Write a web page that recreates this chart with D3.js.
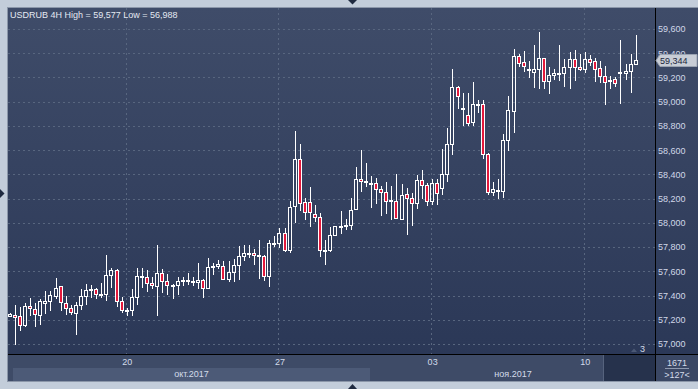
<!DOCTYPE html>
<html><head><meta charset="utf-8">
<script src="https://cdn.jsdelivr.net/npm/d3@7/dist/d3.min.js"></script>
<style>html,body{margin:0;padding:0;background:#c3cdda;overflow:hidden}svg{display:block}</style>
</head><body><svg id="c" width="698" height="389"></svg>
<script>
// ---- data (USDRUB 4H) ----
const days = ["16.10","17.10","18.10","19.10","20.10","23.10","24.10","25.10","26.10","27.10",
  "30.10","31.10","01.11","02.11","03.11","06.11","07.11","08.11","09.11","10.11","13.11"];
const hours = ["00:00","04:00","08:00","12:00","16:00","20:00"];
const categories = [];
days.forEach(d => hours.forEach(h => categories.push(d + " " + h)));
categories.shift();              // first visible bar is 16.10 04:00
categories.pop();                // last visible bar is 13.11 16:00

const opens = [57228,57241,57230,57159,57313,57288,57236,57340,57351,57400,57475,57335,57294,57258,57318,57400,57442,57458,57406,57409,
  57573,57614,57359,57277,57277,57392,57565,57549,57507,57480,57582,57516,57483,57483,57518,57518,57513,57510,57532,57466,
  57639,57642,57647,57540,57598,57656,57730,57748,57754,57735,57730,57565,57831,57837,57919,57779,58138,58528,58174,58174,
  58075,58051,57776,57779,57902,57963,57971,57979,58111,58363,58339,58322,58330,58281,58256,58182,58182,58034,58240,58207,
  58166,58355,58314,58179,58330,58286,58404,58651,59120,58942,58890,58832,58980,58980,58569,58256,58262,58265,58684,58920,
  59378,59326,59260,59244,59268,59359,59170,59219,59236,59236,59285,59351,59285,59268,59351,59334,59277,59208,59173,59186,
  59236,59236,59252,59310];
const highs = [57258,57321,57302,57340,57379,57335,57373,57436,57436,57543,57477,57400,57326,57343,57450,57499,57483,57466,57502,57732,
  57631,57620,57384,57299,57450,57631,57631,57614,57549,57815,57623,57579,57499,57557,57557,57582,57549,57667,57538,57708,
  57667,57694,57683,57683,57705,57806,57815,57815,57787,57856,57738,57860,57889,57960,57960,58177,58761,58654,58201,58300,
  58149,58083,57856,57966,57977,58094,58029,58207,58465,58605,58498,58385,58374,58306,58341,58308,58407,58322,58289,58243,
  58391,58437,58328,58358,58358,58613,58786,59271,59131,59071,59074,59164,59016,59016,58580,58341,58366,58736,59044,59436,
  59395,59419,59337,59469,59577,59364,59285,59266,59469,59356,59411,59428,59395,59411,59386,59362,59337,59296,59214,59200,
  59510,59312,59395,59551];
const lows = [57219,56988,57110,57143,57230,57143,57156,57250,57274,57373,57274,57241,57236,57077,57283,57321,57381,57368,57379,57357,
  57461,57302,57252,57230,57233,57324,57466,57433,57458,57233,57425,57406,57373,57406,57477,57486,57480,57458,57376,57455,
  57571,57617,57527,57510,57513,57532,57688,57710,57656,57540,57520,57472,57801,57795,57760,57752,57998,58094,58020,57966,
  58007,57719,57653,57760,57891,57905,57938,57938,58103,58254,58295,58122,58155,58053,58073,58026,58037,58029,57897,57974,
  58114,58199,58136,58144,58144,58226,58336,58564,58942,58802,58802,58797,58904,58528,58226,58218,58199,58201,58591,58739,
  59290,59249,59192,59109,59104,59104,59060,59181,59172,59123,59101,59172,59257,59233,59296,59164,59151,58969,59107,59120,
  58980,59181,59068,59300];
const closes = [57250,57225,57159,57313,57294,57244,57351,57354,57403,57466,57343,57294,57261,57318,57400,57444,57458,57409,57409,57573,
  57614,57359,57277,57280,57392,57565,57549,57507,57491,57590,57524,57483,57486,57524,57527,57527,57521,57527,57464,57639,
  57642,57658,57540,57598,57656,57730,57754,57754,57738,57738,57560,57837,57837,57919,57779,58130,58528,58163,58092,58092,
  58051,57779,57779,57902,57971,57971,57979,58108,58363,58347,58347,58331,58278,58256,58182,58185,58042,58232,58207,58166,
  58355,58314,58182,58330,58245,58404,58651,59120,59046,58950,58821,58980,58985,58569,58256,58281,58267,58684,58931,59378,
  59318,59293,59266,59271,59359,59170,59219,59236,59238,59285,59351,59285,59268,59351,59326,59266,59208,59162,59181,59156,
  59241,59255,59310,59344];

const yTicks = [57000,57200,57400,57600,57800,58000,58200,58400,58600,58800,59000,59200,59400,59600];
const xTickCats = ["20.10 00:00","27.10 00:00","03.11 00:00","10.11 00:00"];
const xTickLabels = ["20","27","03","10"];
const monthLabels = ["окт.2017","ноя.2017"];
const monthStarts = [null,"01.11 00:00"];
const title = "USDRUB 4H High = 59,577 Low = 56,988";
const lastPrice = 59344;
const barsCount = "1671", visibleBars = ">127<";

// ---- drawing ----
const svg = d3.select("#c");
const P = {l:8, t:8, r:655, b:354, bottom:381, right:698};
const FONT = "'Liberation Sans', Arial, sans-serif";
const y = d3.scaleLinear().domain([57000, 59600]).range([344, 29]);
const x = d3.scalePoint().domain(categories).range([9.7, 635.7]);
const fmt = d3.format(",");

const defs = svg.append("defs");
const g1 = defs.append("linearGradient").attr("id","bg").attr("x1",0).attr("y1",0).attr("x2",0).attr("y2",1);
g1.append("stop").attr("offset","0%").attr("stop-color","#3f4c69");
g1.append("stop").attr("offset","100%").attr("stop-color","#2b3857");

// panel
svg.append("rect").attr("x",P.l-1).attr("y",P.t-1).attr("width",P.right-P.l+1).attr("height",P.bottom-P.t+2)
  .attr("fill","#8c97a9");
svg.append("rect").attr("x",P.l).attr("y",P.t).attr("width",P.right-P.l).attr("height",P.b-P.t)
  .attr("fill","url(#bg)");
// bottom rows
svg.append("rect").attr("x",P.l).attr("y",P.b+1).attr("width",P.r-P.l).attr("height",P.bottom-P.b-1).attr("fill","#3e4b67");
svg.append("rect").attr("x",P.r+1).attr("y",P.b+1).attr("width",P.right-P.r-1).attr("height",P.bottom-P.b-1).attr("fill","#3a4764");

// month bands
const monthRowY = 368;
const novX = Math.round(x(monthStarts[1])) - 1;
svg.append("rect").attr("x",13).attr("y",monthRowY).attr("width",novX-13).attr("height",P.bottom-monthRowY).attr("fill","#4c5a77");
svg.append("rect").attr("x",novX).attr("y",monthRowY).attr("width",P.r-novX).attr("height",P.bottom-monthRowY).attr("fill","#3e4b67");
// dark region on the right of the time scale
svg.append("rect").attr("x",604).attr("y",P.b+1).attr("width",P.r-604).attr("height",P.bottom-P.b-1).attr("fill","#26324c");
svg.append("line").attr("x1",603.5).attr("x2",603.5).attr("y1",P.b+1).attr("y2",P.bottom).attr("stroke","#56637d");

const mx = [(13+novX)/2, (novX+P.r+1)/2];
svg.selectAll("text.month").data(monthLabels).join("text").attr("class","month")
  .attr("x",(d,i)=>mx[i]).attr("y",376.6).attr("text-anchor","middle")
  .attr("font-family",FONT).attr("font-size",9).attr("fill","#d3dbea").text(d=>d);

// grid
const grid = svg.append("g");
grid.selectAll("line.h").data(yTicks).join("line").attr("class","h")
  .attr("x1",P.l).attr("x2",P.r).attr("y1",d=>Math.round(y(d))+0.5).attr("y2",d=>Math.round(y(d))+0.5)
  .attr("stroke","#58667f").attr("stroke-dasharray","2,3");
grid.selectAll("line.v").data(xTickCats).join("line").attr("class","v")
  .attr("x1",d=>Math.round(x(d))-0.5).attr("x2",d=>Math.round(x(d))-0.5).attr("y1",P.t).attr("y2",P.b)
  .attr("stroke","#58667f").attr("stroke-dasharray","2,3");

// candles
const data = categories.map((c,i)=>({c,o:opens[i],h:highs[i],l:lows[i],cl:closes[i]}));
const cg = svg.append("g");
data.forEach(d=>{
  const px = Math.round(x(d.c));
  const top = Math.round(y(Math.max(d.o,d.cl)));
  let bot = Math.round(y(Math.min(d.o,d.cl)));
  if (bot - top < 1) bot = top + 1;
  const yh = Math.round(y(d.h)), yl = Math.round(y(d.l));
  if (yh < top) cg.append("line").attr("x1",px+0.5).attr("x2",px+0.5).attr("y1",yh).attr("y2",top).attr("stroke","#fff");
  if (yl > bot) cg.append("line").attr("x1",px+0.5).attr("x2",px+0.5).attr("y1",bot).attr("y2",yl).attr("stroke","#fff");
  cg.append("rect").attr("x",px-1.5).attr("y",top+0.5).attr("width",3).attr("height",bot-top)
    .attr("fill", d.cl < d.o ? "#e3193c" : "none").attr("stroke","#fff").attr("stroke-width",1);
});

// separators
svg.append("line").attr("x1",P.r+0.5).attr("x2",P.r+0.5).attr("y1",P.t).attr("y2",P.bottom).attr("stroke","#000");
svg.append("line").attr("x1",P.l).attr("x2",P.right).attr("y1",P.b+0.5).attr("y2",P.b+0.5).attr("stroke","#000");

// y axis
const ya = svg.append("g").attr("transform",`translate(${P.r+3},0)`)
  .call(d3.axisRight(y).tickValues(yTicks).tickFormat(fmt).tickSize(0).tickPadding(0));
ya.select(".domain").remove();
ya.selectAll("text").attr("font-family",FONT).attr("font-size",9).attr("fill","#d0d8e8");

// x axis
const xa = svg.append("g").attr("transform",`translate(0,${P.b+1})`)
  .call(d3.axisBottom(x).tickValues(xTickCats).tickFormat((d,i)=>xTickLabels[i]).tickSize(0).tickPadding(4));
xa.select(".domain").remove();
xa.selectAll("text").attr("font-family",FONT).attr("font-size",9).attr("fill","#d3dbea");

// title
svg.append("text").attr("x",10).attr("y",17.7).attr("font-family",FONT).attr("font-size",9).attr("fill","#e4e9f2").text(title);

// last price marker
const ly = Math.round(y(lastPrice));
svg.append("path").attr("d",`M656,${ly+0.5} L660,${ly-5.5} L697,${ly-5.5} L697,${ly+6.5} L660,${ly+6.5} Z`)
  .attr("fill","#c8cdd6").attr("stroke","#9aa3b2");
svg.append("text").attr("x",660).attr("y",ly+3.5).attr("font-family",FONT).attr("font-size",9).attr("fill","#1c2740").text(d3.format(",")(lastPrice));

// bottom right counter
svg.append("text").attr("x",677).attr("y",365.6).attr("text-anchor","middle").attr("font-family",FONT).attr("font-size",9).attr("fill","#d3dbea").text(barsCount);
svg.append("line").attr("x1",665).attr("x2",689).attr("y1",368.5).attr("y2",368.5).attr("stroke","#8f9ab0");
svg.append("text").attr("x",677).attr("y",377.6).attr("text-anchor","middle").attr("font-family",FONT).attr("font-size",9).attr("fill","#d3dbea").text(visibleBars);

// small marker "3"
svg.append("path").attr("d","M631,352 L634,348.5 L637,352 Z").attr("fill","#4b5875");
svg.append("text").attr("x",640).attr("y",352).attr("font-family",FONT).attr("font-size",9).attr("fill","#d3dbea").text("3");

// scroll triangles
svg.append("path").attr("d","M348,0 L357,0 L352.5,4.5 Z").attr("fill","#1f2a40");
svg.append("path").attr("d","M348,389 L357,389 L352.5,384 Z").attr("fill","#1f2a40");
svg.append("path").attr("d","M0,189 L4.5,193.5 L0,198 Z").attr("fill","#1f2a40");
</script></body></html>
